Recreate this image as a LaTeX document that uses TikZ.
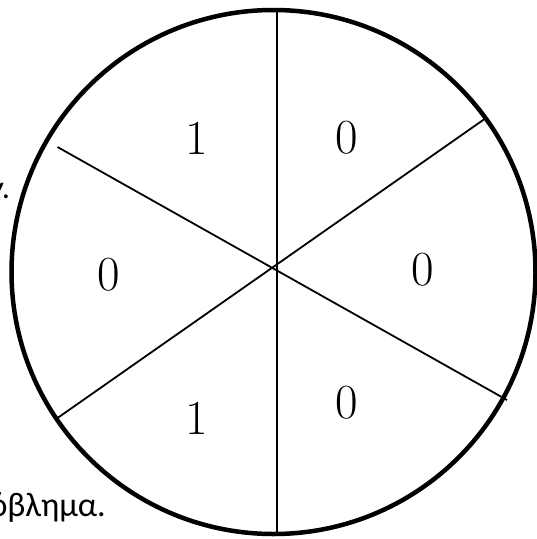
\documentclass[tikz,border=0pt]{standalone}
\usepackage{fontspec}
\newfontfamily\grfont{Carlito}
\usetikzlibrary{positioning}

\begin{document}
\begin{tikzpicture}[x=1pt,y=-1pt,rim/.style={line width=4.5pt},spoke/.style={line width=1.8pt},digit/.style={inner sep=0pt,font=\fontsize{49}{58}\selectfont},word/.style={inner sep=0pt,anchor=base east,font=\grfont\fontsize{34}{41}\selectfont}]
\useasboundingbox (0,0) rectangle (537,539);
% text of the page behind the wheel
\node[word,font=\grfont\itshape\fontsize{32}{38}\selectfont] (w1) at (11,198) {ν.};
\node[word] (w2) at (106,516) {όβλημα.};
% wheel
\coordinate (c) at (273.5,272);
\draw[rim] (c) circle (262);
\coordinate (t) at (277,10);\coordinate (b) at (277,534);
\coordinate (ul) at (57.5,147);\coordinate (lr) at (507,400);
\coordinate (ll) at (57.5,418);\coordinate (ur) at (486,118);
\draw[spoke] (t)--(b);\draw[spoke] (ul)--(lr);\draw[spoke] (ll)--(ur);
% values
\node[digit] (s1) at (197,138) {1};
\node[digit] (s2) at (346.5,137.5) {0};
\node[digit] (s3) at (423,270) {0};
\node[digit] (s4) at (346.5,403) {0};
\node[digit] (s5) at (197,418) {1};
\node[digit] (s6) at (109,275) {0};
\end{tikzpicture}
\end{document}
